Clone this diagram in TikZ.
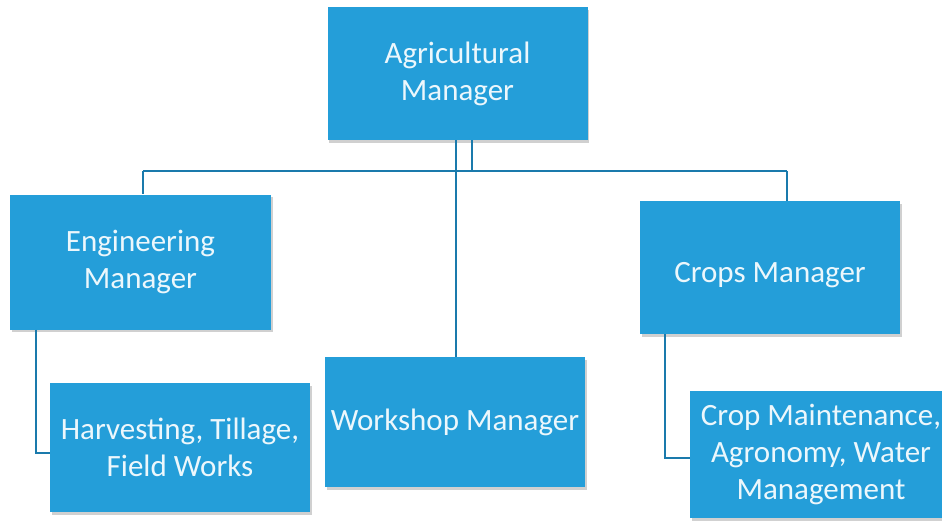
\documentclass[tikz,border=0pt]{standalone}
\usepackage{fontspec}
\setmainfont{Carlito}
\usetikzlibrary{shadows}
\definecolor{boxblue}{RGB}{36,158,217}
\definecolor{lineblue}{RGB}{26,122,172}
\definecolor{txt}{RGB}{236,247,252}
\begin{document}
\begin{tikzpicture}[x=1pt,y=-1pt,
  box/.style={rectangle, fill=boxblue, draw=none, minimum width=260pt, inner sep=0pt,
    text=txt, align=center, font=\fontsize{31}{37}\selectfont,
    drop shadow={opacity=0.3, shadow xshift=1.5pt, shadow yshift=-2.5pt, fill=black!60}},
  conn/.style={draw=lineblue, line width=2.4pt}]
\useasboundingbox (0,0) rectangle (942,520);
\clip (0,0) rectangle (942,520);
\fill[white] (0,0) rectangle (942,520);
\coordinate (j1) at (472,171);
\coordinate (jl) at (143,171);
\coordinate (jr) at (787,171);
\node[box, minimum height=133pt] (agri) at (457.5,73.5) {Agricultural\\Manager};
\node[box, minimum width=261pt, minimum height=135pt] (eng) at (140.5,262) {Engineering\\Manager};
\node[box, minimum height=129pt] (harv) at (180,447.5) {Harvesting, Tillage,\\Field Works};
\node[box, minimum height=130pt] (work) at (455,422) {Workshop Manager};
\node[box, minimum height=133pt, text height=35pt, text depth=6pt] (crops) at (770,267.5) {Crops Manager};
\node[box, minimum width=262pt, minimum height=127pt] (cropm) at (821,454.5) {Crop Maintenance,\\Agronomy, Water\\Management};
\draw[conn] (agri.south -| j1) -- (j1);
\draw[conn] (jl) -- (jr);
\draw[conn] (jl) -- (eng.north -| jl);
\draw[conn] (jr) -- (crops.north -| jr);
\draw[conn] (agri.south -| 456,0) -- (work.north -| 456,0);
\draw[conn] (eng.south -| 36,0) |- (harv.west |- 0,453);
\draw[conn] (crops.south -| 665,0) |- (cropm.west |- 0,458);
\end{tikzpicture}
\end{document}
